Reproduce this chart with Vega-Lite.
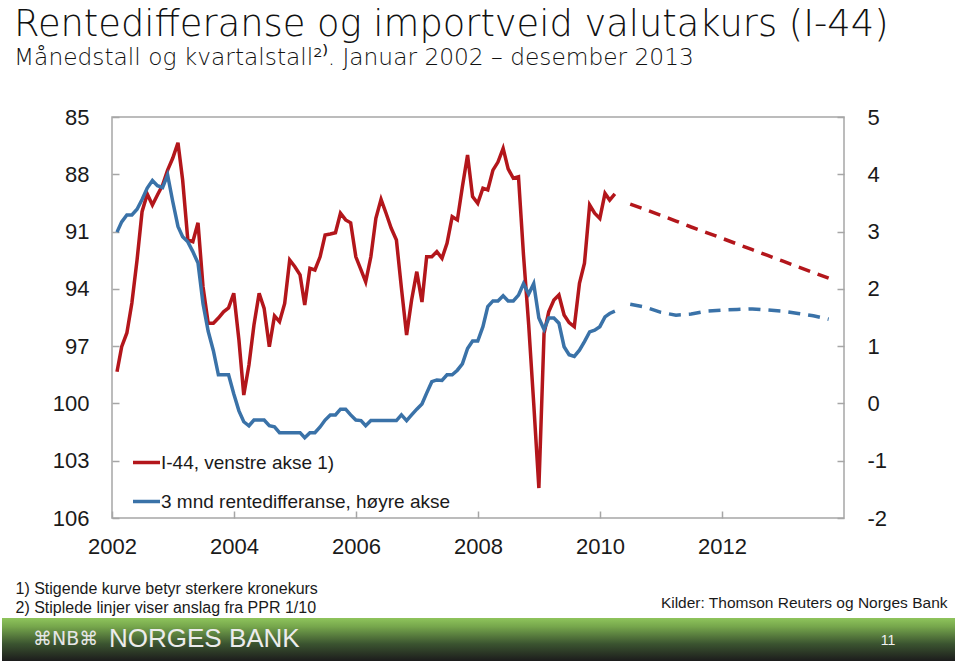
{
  "$schema": "https://vega.github.io/schema/vega-lite/v6.json",
  "background": "white",
  "padding": {"left": 2, "top": 7, "right": 0, "bottom": 0},
  "config": {
    "font": "Liberation Sans",
    "view": {"stroke": null},
    "axis": {"grid": false, "labelColor": "#1a1a1a", "labelFontSize": 22, "tickColor": "#a6a6a6", "tickWidth": 1.5, "domain": false}
  },
  "title": {
    "text": "Rentedifferanse og importveid valutakurs (I-44)",
    "subtitle": "Månedstall og kvartalstall²⁾. Januar 2002 – desember 2013",
    "anchor": "start",
    "dx": 12,
    "font": "DejaVu Sans",
    "fontSize": 36.8,
    "fontWeight": 200,
    "color": "#111111",
    "subtitleFont": "DejaVu Sans",
    "subtitleFontSize": 23.3,
    "subtitleFontWeight": 200,
    "subtitleColor": "#111111",
    "subtitlePadding": 3,
    "offset": 36
  },
  "datasets": {
    "maaned": [
      {"dato": "2002-01-31", "i44": 98.34, "rente": 2.99},
      {"dato": "2002-02-28", "i44": 97.03, "rente": 3.17},
      {"dato": "2002-03-31", "i44": 96.31, "rente": 3.29},
      {"dato": "2002-04-30", "i44": 94.74, "rente": 3.29},
      {"dato": "2002-05-31", "i44": 92.49, "rente": 3.39},
      {"dato": "2002-06-30", "i44": 89.96, "rente": 3.56},
      {"dato": "2002-07-31", "i44": 89.03, "rente": 3.76},
      {"dato": "2002-08-31", "i44": 89.61, "rente": 3.89},
      {"dato": "2002-09-30", "i44": 89.08, "rente": 3.80},
      {"dato": "2002-10-31", "i44": 88.56, "rente": 3.77},
      {"dato": "2002-11-30", "i44": 87.78, "rente": 3.99},
      {"dato": "2002-12-31", "i44": 87.15, "rente": 3.52},
      {"dato": "2003-01-31", "i44": 86.35, "rente": 3.09},
      {"dato": "2003-02-28", "i44": 88.30, "rente": 2.91},
      {"dato": "2003-03-31", "i44": 91.44, "rente": 2.82},
      {"dato": "2003-04-30", "i44": 91.53, "rente": 2.65},
      {"dato": "2003-05-31", "i44": 90.54, "rente": 2.45},
      {"dato": "2003-06-30", "i44": 93.89, "rente": 1.74},
      {"dato": "2003-07-31", "i44": 95.80, "rente": 1.26},
      {"dato": "2003-08-31", "i44": 95.80, "rente": 0.92},
      {"dato": "2003-09-30", "i44": 95.53, "rente": 0.50},
      {"dato": "2003-10-31", "i44": 95.20, "rente": 0.50},
      {"dato": "2003-11-30", "i44": 95.00, "rente": 0.50},
      {"dato": "2003-12-31", "i44": 94.23, "rente": 0.17},
      {"dato": "2004-01-31", "i44": 96.68, "rente": -0.13},
      {"dato": "2004-02-29", "i44": 99.56, "rente": -0.32},
      {"dato": "2004-03-31", "i44": 97.99, "rente": -0.39},
      {"dato": "2004-04-30", "i44": 95.89, "rente": -0.29},
      {"dato": "2004-05-31", "i44": 94.23, "rente": -0.29},
      {"dato": "2004-06-30", "i44": 95.02, "rente": -0.29},
      {"dato": "2004-07-31", "i44": 97.03, "rente": -0.39},
      {"dato": "2004-08-31", "i44": 95.42, "rente": -0.41},
      {"dato": "2004-09-30", "i44": 95.72, "rente": -0.51},
      {"dato": "2004-10-31", "i44": 94.76, "rente": -0.51},
      {"dato": "2004-11-30", "i44": 92.49, "rente": -0.51},
      {"dato": "2004-12-31", "i44": 92.84, "rente": -0.51},
      {"dato": "2005-01-31", "i44": 93.27, "rente": -0.51},
      {"dato": "2005-02-28", "i44": 94.85, "rente": -0.60},
      {"dato": "2005-03-31", "i44": 92.92, "rente": -0.51},
      {"dato": "2005-04-30", "i44": 93.01, "rente": -0.51},
      {"dato": "2005-05-31", "i44": 92.32, "rente": -0.41},
      {"dato": "2005-06-30", "i44": 91.18, "rente": -0.29},
      {"dato": "2005-07-31", "i44": 91.13, "rente": -0.20},
      {"dato": "2005-08-31", "i44": 91.06, "rente": -0.20},
      {"dato": "2005-09-30", "i44": 90.04, "rente": -0.10},
      {"dato": "2005-10-31", "i44": 90.39, "rente": -0.10},
      {"dato": "2005-11-30", "i44": 90.54, "rente": -0.20},
      {"dato": "2005-12-31", "i44": 92.32, "rente": -0.29},
      {"dato": "2006-01-31", "i44": 93.01, "rente": -0.30},
      {"dato": "2006-02-28", "i44": 93.63, "rente": -0.39},
      {"dato": "2006-03-31", "i44": 92.32, "rente": -0.30},
      {"dato": "2006-04-30", "i44": 90.31, "rente": -0.30},
      {"dato": "2006-05-31", "i44": 89.31, "rente": -0.30},
      {"dato": "2006-06-30", "i44": 90.04, "rente": -0.30},
      {"dato": "2006-07-31", "i44": 90.83, "rente": -0.30},
      {"dato": "2006-08-31", "i44": 91.44, "rente": -0.30},
      {"dato": "2006-09-30", "i44": 93.96, "rente": -0.20},
      {"dato": "2006-10-31", "i44": 96.42, "rente": -0.30},
      {"dato": "2006-11-30", "i44": 94.58, "rente": -0.20},
      {"dato": "2006-12-31", "i44": 93.10, "rente": -0.10},
      {"dato": "2007-01-31", "i44": 94.69, "rente": -0.01},
      {"dato": "2007-02-28", "i44": 92.32, "rente": 0.18},
      {"dato": "2007-03-31", "i44": 92.32, "rente": 0.38},
      {"dato": "2007-04-30", "i44": 92.05, "rente": 0.41},
      {"dato": "2007-05-31", "i44": 92.40, "rente": 0.40},
      {"dato": "2007-06-30", "i44": 91.61, "rente": 0.50},
      {"dato": "2007-07-31", "i44": 90.22, "rente": 0.50},
      {"dato": "2007-08-31", "i44": 90.39, "rente": 0.58},
      {"dato": "2007-09-30", "i44": 88.65, "rente": 0.69},
      {"dato": "2007-10-31", "i44": 86.99, "rente": 0.96},
      {"dato": "2007-11-30", "i44": 89.17, "rente": 1.09},
      {"dato": "2007-12-31", "i44": 89.52, "rente": 1.09},
      {"dato": "2008-01-31", "i44": 88.73, "rente": 1.34},
      {"dato": "2008-02-29", "i44": 88.82, "rente": 1.69},
      {"dato": "2008-03-31", "i44": 87.78, "rente": 1.79},
      {"dato": "2008-04-30", "i44": 87.36, "rente": 1.79},
      {"dato": "2008-05-31", "i44": 86.64, "rente": 1.88},
      {"dato": "2008-06-30", "i44": 87.72, "rente": 1.79},
      {"dato": "2008-07-31", "i44": 88.21, "rente": 1.79},
      {"dato": "2008-08-31", "i44": 88.13, "rente": 1.89},
      {"dato": "2008-09-30", "i44": 92.23, "rente": 2.09},
      {"dato": "2008-10-31", "i44": 95.89, "rente": 1.91},
      {"dato": "2008-11-30", "i44": 99.98, "rente": 2.09},
      {"dato": "2008-12-31", "i44": 104.43, "rente": 1.49},
      {"dato": "2009-01-31", "i44": 96.33, "rente": 1.29},
      {"dato": "2009-02-28", "i44": 95.20, "rente": 1.49},
      {"dato": "2009-03-31", "i44": 94.58, "rente": 1.49},
      {"dato": "2009-04-30", "i44": 94.32, "rente": 1.40},
      {"dato": "2009-05-31", "i44": 95.37, "rente": 0.99},
      {"dato": "2009-06-30", "i44": 95.77, "rente": 0.85},
      {"dato": "2009-07-31", "i44": 95.98, "rente": 0.82},
      {"dato": "2009-08-31", "i44": 93.71, "rente": 0.93},
      {"dato": "2009-09-30", "i44": 92.66, "rente": 1.08},
      {"dato": "2009-10-31", "i44": 89.61, "rente": 1.25},
      {"dato": "2009-11-30", "i44": 90.04, "rente": 1.28},
      {"dato": "2009-12-31", "i44": 90.31, "rente": 1.34},
      {"dato": "2010-01-31", "i44": 89.00, "rente": 1.51},
      {"dato": "2010-02-28", "i44": 89.35, "rente": 1.57},
      {"dato": "2010-03-31", "i44": 89.03, "rente": 1.61}
    ],
    "anslag": [
      {"dato": "2010-07-01", "i44": 89.56, "rente": 1.73},
      {"dato": "2010-10-01", "i44": 89.85, "rente": 1.68},
      {"dato": "2011-01-01", "i44": 90.15, "rente": 1.59},
      {"dato": "2011-04-01", "i44": 90.45, "rente": 1.54},
      {"dato": "2011-07-01", "i44": 90.76, "rente": 1.56},
      {"dato": "2011-10-01", "i44": 91.05, "rente": 1.61},
      {"dato": "2012-01-01", "i44": 91.35, "rente": 1.63},
      {"dato": "2012-04-01", "i44": 91.65, "rente": 1.64},
      {"dato": "2012-07-01", "i44": 91.95, "rente": 1.65},
      {"dato": "2012-10-01", "i44": 92.25, "rente": 1.63},
      {"dato": "2013-01-01", "i44": 92.55, "rente": 1.61},
      {"dato": "2013-04-01", "i44": 92.85, "rente": 1.57},
      {"dato": "2013-07-01", "i44": 93.14, "rente": 1.53},
      {"dato": "2013-10-01", "i44": 93.44, "rente": 1.47}
    ],
    "banner": [
      {"logo": "⌘NB⌘", "bank": "NORGES BANK", "side": "11"}
    ]
  },
  "vconcat": [
    {
      "hconcat": [
        {
          "width": 1,
          "height": 1,
          "view": {"stroke": null},
          "data": {"values": []},
          "mark": "point"
        },
        {
          "width": 732,
          "height": 401,
          "view": {"stroke": "#a6a6a6", "strokeWidth": 1.5},
          "layer": [
            {
              "layer": [
                {
                  "mark": {"type": "rule", "color": "#a6a6a6", "strokeWidth": 1.5},
                  "encoding": {"y": {"datum": 100}}
                },
                {
                  "data": {"name": "maaned"},
                  "mark": {"type": "line", "strokeWidth": 3.5},
                  "encoding": {
                    "x": {"field": "dato", "type": "temporal"},
                    "y": {"field": "i44", "type": "quantitative"},
                    "color": {
                      "datum": "I-44, venstre akse 1)",
                      "scale": {
                        "domain": ["I-44, venstre akse 1)", "3 mnd rentedifferanse, høyre akse"],
                        "range": ["#b3161b", "#3a72a8"]
                      },
                      "legend": {
                        "title": null,
                        "orient": "none",
                        "legendX": 129,
                        "legendY": 330,
                        "symbolType": "stroke",
                        "symbolSize": 729,
                        "symbolStrokeWidth": 3.5,
                        "labelFontSize": 19,
                        "labelColor": "#1a1a1a",
                        "labelLimit": 0,
                        "labelOffset": -1,
                        "rowPadding": 13,
                        "padding": 0
                      }
                    }
                  }
                },
                {
                  "data": {"name": "anslag"},
                  "mark": {"type": "line", "strokeWidth": 3.5, "strokeDash": [12, 8]},
                  "encoding": {
                    "x": {"field": "dato", "type": "temporal"},
                    "y": {"field": "i44", "type": "quantitative"},
                    "color": {"datum": "I-44, venstre akse 1)"}
                  }
                }
              ],
              "encoding": {
                "x": {
                  "type": "temporal",
                  "scale": {
                    "type": "utc",
                    "domain": [{"year": 2002, "month": 1, "date": 1, "utc": true}, {"year": 2014, "month": 1, "date": 1, "utc": true}]
                  },
                  "axis": {
                    "orient": "bottom",
                    "values": [
                      {"year": 2002, "month": 1, "date": 1, "utc": true},
                      {"year": 2004, "month": 1, "date": 1, "utc": true},
                      {"year": 2006, "month": 1, "date": 1, "utc": true},
                      {"year": 2008, "month": 1, "date": 1, "utc": true},
                      {"year": 2010, "month": 1, "date": 1, "utc": true},
                      {"year": 2012, "month": 1, "date": 1, "utc": true}
                    ],
                    "format": "%Y",
                    "tickSize": -7,
                    "labelPadding": 25,
                    "labelFlush": false,
                    "title": ["1) Stigende kurve betyr sterkere kronekurs", "2) Stiplede linjer viser anslag fra PPR 1/10"],
                    "titleX": -97,
                    "titleY": 62,
                    "titleAlign": "left",
                    "titleAnchor": "start",
                    "titleBaseline": "top",
                    "titleFontSize": 16,
                    "titleFontWeight": "normal",
                    "titleColor": "#1a1a1a",
                    "titleLineHeight": 19
                  }
                },
                "y": {
                  "type": "quantitative",
                  "scale": {"domain": [85, 106], "reverse": true, "nice": false, "zero": false},
                  "axis": {
                    "orient": "left",
                    "values": [85, 88, 91, 94, 97, 100, 103, 106],
                    "tickSize": -7,
                    "labelPadding": 30,
                    "title": null
                  }
                }
              }
            },
            {
              "layer": [
                {
                  "data": {"name": "maaned"},
                  "mark": {"type": "line", "strokeWidth": 3.5},
                  "encoding": {
                    "x": {"field": "dato", "type": "temporal"},
                    "y": {"field": "rente", "type": "quantitative"},
                    "color": {"datum": "3 mnd rentedifferanse, høyre akse"}
                  }
                },
                {
                  "data": {"name": "anslag"},
                  "mark": {"type": "line", "strokeWidth": 3.5, "strokeDash": [12, 8]},
                  "encoding": {
                    "x": {"field": "dato", "type": "temporal"},
                    "y": {"field": "rente", "type": "quantitative"},
                    "color": {"datum": "3 mnd rentedifferanse, høyre akse"}
                  }
                }
              ],
              "encoding": {
                "x": {
                  "type": "temporal",
                  "axis": {
                    "orient": "bottom",
                    "labels": false,
                    "ticks": false,
                    "domain": false,
                    "title": "Kilder: Thomson Reuters og Norges Bank",
                    "titleX": 835,
                    "titleY": 77,
                    "titleAlign": "right",
                    "titleAnchor": "end",
                    "titleBaseline": "top",
                    "titleFontSize": 15.5,
                    "titleFontWeight": "normal",
                    "titleColor": "#1a1a1a"
                  }
                },
                "y": {
                  "type": "quantitative",
                  "scale": {"domain": [-2, 5], "nice": false, "zero": false},
                  "axis": {
                    "orient": "right",
                    "values": [-2, -1, 0, 1, 2, 3, 4, 5],
                    "labelExpr": "replace(datum.label, '−', '-')",
                    "tickSize": -7,
                    "labelPadding": 30,
                    "title": null
                  }
                }
              }
            }
          ],
          "resolve": {"scale": {"y": "independent"}, "axis": {"x": "independent"}}
        }
      ],
      "spacing": 11
    },
    {
      "width": 953,
      "height": 43,
      "view": {"stroke": null},
      "data": {"name": "banner"},
      "layer": [
        {
          "mark": {
            "type": "rect",
            "fill": {
              "gradient": "linear",
              "x1": 0, "y1": 0, "x2": 0, "y2": 1,
              "stops": [
                {"offset": 0, "color": "#8fc45c"},
                {"offset": 0.2, "color": "#76a64c"},
                {"offset": 0.6, "color": "#3b5430"},
                {"offset": 1, "color": "#1c1c1c"}
              ]
            }
          },
          "encoding": {}
        },
        {
          "mark": {"type": "text", "align": "left", "baseline": "middle", "fontSize": 19, "color": "#e6e6e6", "font": "DejaVu Sans"},
          "encoding": {"text": {"field": "logo"}, "x": {"value": 31}, "y": {"value": 21}}
        },
        {
          "mark": {"type": "text", "align": "left", "baseline": "middle", "fontSize": 26, "color": "#ececec"},
          "encoding": {"text": {"field": "bank"}, "x": {"value": 107}, "y": {"value": 21}}
        },
        {
          "mark": {"type": "text", "align": "center", "baseline": "middle", "fontSize": 14, "color": "#f0f0f0"},
          "encoding": {"text": {"field": "side"}, "x": {"value": 886}, "y": {"value": 23}}
        }
      ]
    }
  ],
  "spacing": 2,
  "bounds": "full"
}
